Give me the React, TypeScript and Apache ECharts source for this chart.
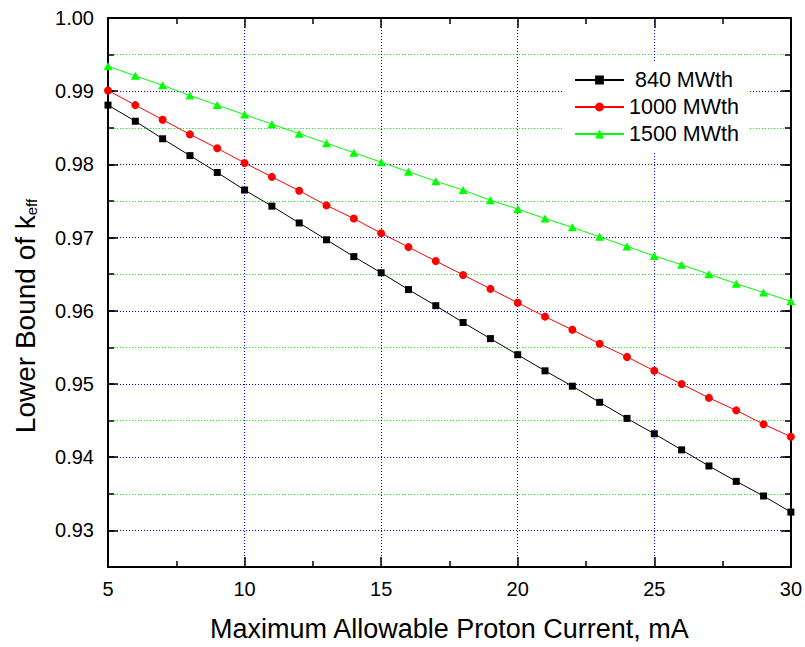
import React, { useEffect, useRef } from 'react';
import * as echarts from 'echarts';

const currentMA = [5, 6, 7, 8, 9, 10, 11, 12, 13, 14, 15, 16, 17, 18, 19, 20, 21, 22, 23, 24, 25, 26, 27, 28, 29, 30];
const keff840 = [0.9881, 0.9859, 0.9835, 0.9812, 0.9789, 0.9765, 0.9743, 0.9720, 0.9697, 0.9674, 0.9652, 0.9629, 0.9607, 0.9584, 0.9562, 0.9540, 0.9518, 0.9497, 0.9475, 0.9453, 0.9432, 0.9410, 0.9388, 0.9367, 0.9347, 0.9325];
const keff1000 = [0.9901, 0.9881, 0.9861, 0.9841, 0.9822, 0.9802, 0.9783, 0.9764, 0.9744, 0.9726, 0.9706, 0.9687, 0.9668, 0.9649, 0.9630, 0.9611, 0.9592, 0.9574, 0.9555, 0.9537, 0.9518, 0.9500, 0.9481, 0.9464, 0.9445, 0.9428];
const keff1500 = [0.9934, 0.9921, 0.9908, 0.9894, 0.9881, 0.9868, 0.9855, 0.9842, 0.9829, 0.9816, 0.9803, 0.9790, 0.9777, 0.9765, 0.9751, 0.9739, 0.9726, 0.9714, 0.9701, 0.9688, 0.9675, 0.9663, 0.9650, 0.9637, 0.9625, 0.9613];
const seriesNames = [' 840 MWth', '1000 MWth', '1500 MWth'];
const xAxisTitle = 'Maximum Allowable Proton Current, mA';
const yAxisTitleMain = 'Lower Bound of k';
const yAxisTitleSub = 'eff';

const FONT = '"Liberation Sans", Arial, Helvetica, sans-serif';

function pairs(xs: number[], ys: number[]) {
  return xs.map((x, i) => [x, ys[i]]);
}

export default function App() {
  const ref = useRef<HTMLDivElement>(null);

  useEffect(() => {
    if (!ref.current) return;
    const chart = echarts.init(ref.current, null, { renderer: 'svg' });

    const axisLine = { show: true, onZero: false, lineStyle: { color: '#000', width: 2 } };
    const tickStyle = { color: '#000', width: 1.5 };
    const xCommon = { type: 'value', min: 5, max: 30, interval: 5 };
    const yRange = { type: 'value', min: 0.925, max: 1.0 };

    const yMinor = (position: string, withLabels: boolean) => ({
      ...yRange,
      interval: 0.005,
      position,
      axisLine,
      axisTick: { show: true, inside: true, length: 6, lineStyle: tickStyle },
      axisLabel: withLabels
        ? {
            show: true,
            margin: 14,
            fontSize: 20,
            fontFamily: FONT,
            color: '#000',
            formatter: (v: number) => (Math.round(v * 1000) % 10 === 0 ? v.toFixed(2) : ''),
          }
        : { show: false },
      splitLine: withLabels
        ? {
            show: true,
            showMinLine: false,
            showMaxLine: false,
            lineStyle: { color: ['#0000ff', '#00ff00'], type: [1, 2], width: 1 },
          }
        : { show: false },
    });

    const yMajor = (position: string) => ({
      ...yRange,
      minInterval: 0.01,
      maxInterval: 0.01,
      splitNumber: 7,
      position,
      axisLine: { show: false },
      axisTick: { show: true, inside: true, length: 10, lineStyle: tickStyle },
      axisLabel: { show: false },
      splitLine: { show: false },
    });

    chart.setOption({
      animation: false,
      backgroundColor: '#fff',
      grid: { left: 108, right: 11, top: 18, bottom: 77 },
      xAxis: [
        {
          ...xCommon,
          position: 'bottom',
          name: xAxisTitle,
          nameLocation: 'middle',
          nameGap: 48,
          nameTextStyle: { fontFamily: FONT, fontSize: 27, color: '#000' },
          axisLine,
          axisTick: { show: true, inside: true, length: 10, lineStyle: tickStyle },
          minorTick: { show: true, splitNumber: 2, length: 6, lineStyle: tickStyle },
          axisLabel: { show: true, margin: 12, fontSize: 20, fontFamily: FONT, color: '#000' },
          splitLine: {
            show: true,
            showMinLine: false,
            showMaxLine: false,
            lineStyle: { color: '#0000ff', type: [1, 2], width: 1 },
          },
        },
        {
          ...xCommon,
          position: 'top',
          axisLine,
          axisTick: { show: true, inside: true, length: 10, lineStyle: tickStyle },
          minorTick: { show: true, splitNumber: 2, length: 6, lineStyle: tickStyle },
          axisLabel: { show: false },
          splitLine: { show: false },
        },
      ],
      yAxis: [yMinor('left', true), yMajor('left'), yMinor('right', false), yMajor('right')],
      legend: {
        orient: 'vertical',
        left: 563,
        top: 62,
        padding: [7, 10, 7, 11],
        itemGap: 5,
        itemWidth: 49,
        itemHeight: 11,
        backgroundColor: '#fff',
        selectedMode: false,
        textStyle: { fontSize: 21.5, fontFamily: FONT, color: '#000' },
        data: seriesNames,
      },
      graphic: [
        {
          type: 'text',
          x: 25,
          y: 316,
          rotation: Math.PI / 2,
          style: {
            text: `{a|${yAxisTitleMain}}{b|${yAxisTitleSub}}`,
            align: 'center',
            verticalAlign: 'middle',
            rich: {
              a: { fontSize: 28, fontFamily: FONT, fill: '#000' },
              b: { fontSize: 15, fontFamily: FONT, fill: '#000', verticalAlign: 'bottom' },
            },
          },
        },
      ],
      series: [
        {
          name: seriesNames[0],
          type: 'line',
          data: pairs(currentMA, keff840),
          symbol: 'rect',
          symbolSize: 7,
          lineStyle: { color: '#000', width: 1 },
          itemStyle: { color: '#000' },
        },
        {
          name: seriesNames[1],
          type: 'line',
          data: pairs(currentMA, keff1000),
          symbol: 'circle',
          symbolSize: 8,
          lineStyle: { color: '#ff0000', width: 1 },
          itemStyle: { color: '#ff0000' },
        },
        {
          name: seriesNames[2],
          type: 'line',
          data: pairs(currentMA, keff1500),
          symbol: 'triangle',
          symbolSize: [9, 8],
          lineStyle: { color: '#00ff00', width: 1 },
          itemStyle: { color: '#00ff00' },
        },
      ],
    });

    return () => chart.dispose();
  }, []);

  return <div ref={ref} style={{ position: 'absolute', left: 0, top: 0, width: 805, height: 647 }} />;
}
